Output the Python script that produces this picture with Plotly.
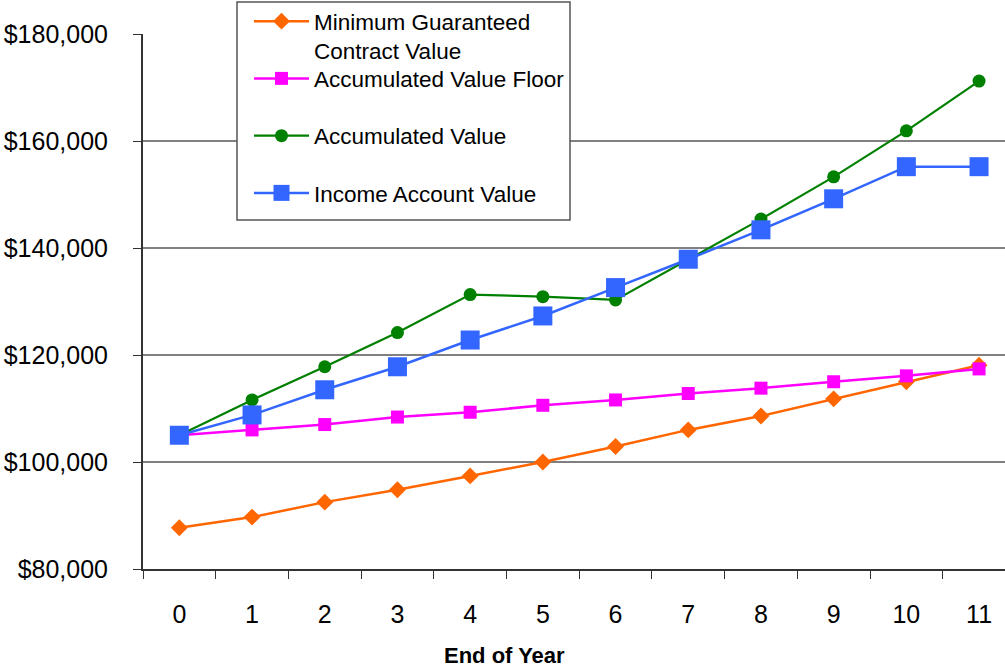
import plotly.graph_objects as go

# End-of-year values for each account measure
years = ["0", "1", "2", "3", "4", "5", "6", "7", "8", "9", "10", "11"]
min_guaranteed = [87700, 89700, 92500, 94800, 97400, 100000, 102900, 106000, 108600, 111800, 115000, 118100]
acc_value_floor = [105000, 106000, 107000, 108400, 109300, 110600, 111600, 112800, 113800, 115000, 116100, 117400]
acc_value = [105000, 111600, 117800, 124200, 131300, 130900, 130300, 137900, 145400, 153300, 161900, 171200]
income_account = [105000, 108800, 113500, 117800, 122800, 127300, 132600, 137900, 143400, 149200, 155200, 155200]

W, H = 1005, 671
ML, MR, MT, MB = 143, 0, 34, 102
PW, PH = W - ML - MR, H - MT - MB


def px_x(x):
    return (x - ML) / PW


def px_y(y):
    return (H - MB - y) / PH


FONT = "Liberation Sans, Arial, sans-serif"

fig = go.Figure()

series = [
    ("Minimum Guaranteed", min_guaranteed, "#FF6600", "diamond", 13, 2.5),
    ("Accumulated Value Floor", acc_value_floor, "#FF00FF", "square", 13, 2.5),
    ("Accumulated Value", acc_value, "#008000", "circle", 13, 2.2),
    ("Income Account Value", income_account, "#3366FF", "square", 19, 2.5),
]

for i, (name, vals, color, symbol, size, lw) in enumerate(series):
    fig.add_trace(go.Scatter(
        x=years, y=vals, name=name, mode="lines+markers",
        line=dict(color=color, width=lw),
        marker=dict(symbol=symbol, size=size, color=color, line=dict(width=0)),
        legendgroup=f"g{i}",
    ))

# Legend frame
fig.add_shape(
    type="rect", xref="paper", yref="paper",
    x0=px_x(237), x1=px_x(570), y0=px_y(220), y1=px_y(2),
    line=dict(color="#555555", width=1.5), fillcolor="white", layer="above",
)

# Second line of the first legend entry
fig.add_annotation(
    text="Contract Value", xref="paper", yref="paper",
    x=px_x(312), y=px_y(52), xanchor="left", yanchor="middle",
    showarrow=False, font=dict(family=FONT, size=22.5, color="black"),
)

# X axis title
fig.add_annotation(
    text="<b>End of Year</b>", xref="paper", yref="paper",
    x=px_x(504), y=px_y(655), xanchor="center", yanchor="middle",
    showarrow=False, font=dict(family=FONT, size=22, color="black"),
)

fig.update_layout(
    width=W, height=H,
    margin=dict(l=ML, r=MR, t=MT, b=MB),
    paper_bgcolor="white", plot_bgcolor="white",
    showlegend=True,
    legend=dict(
        x=px_x(249), y=px_y(0), xanchor="left", yanchor="top",
        bgcolor="rgba(0,0,0,0)", borderwidth=0,
        font=dict(family=FONT, size=22.5, color="black"),
        traceorder="grouped", tracegroupgap=25,
        itemwidth=55, itemsizing="trace",
    ),
    xaxis=dict(
        type="category", range=[-0.5, 11.357],
        showgrid=False, showline=True, linecolor="#333333", linewidth=2,
        ticks="outside", tickson="boundaries", ticklen=8, tickcolor="#333333", tickwidth=1,
        tickfont=dict(family=FONT, size=25, color="black"),
        ticklabelstandoff=22, zeroline=False,
    ),
    yaxis=dict(
        range=[80000, 180000], dtick=20000, tick0=80000,
        tickprefix="$", tickformat=",",
        showgrid=True, gridcolor="#808080", gridwidth=1.5,
        showline=True, linecolor="#333333", linewidth=2,
        ticks="outside", ticklen=8, tickcolor="#333333", tickwidth=1,
        tickfont=dict(family=FONT, size=25, color="black"),
        ticklabelstandoff=20, zeroline=False,
    ),
)

fig.write_html("out.html")
